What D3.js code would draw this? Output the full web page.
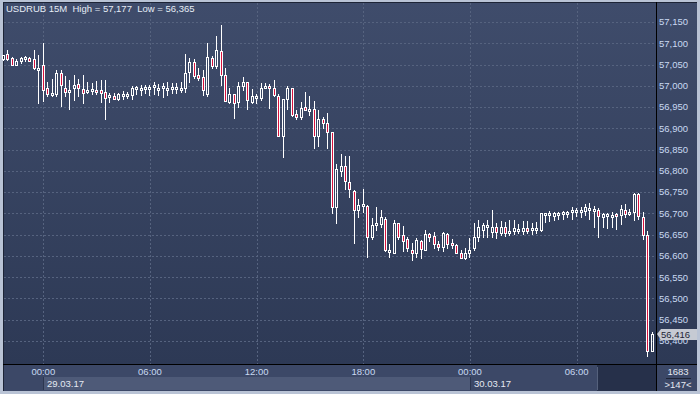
<!DOCTYPE html>
<html><head><meta charset="utf-8">
<script src="https://cdn.jsdelivr.net/npm/d3@7"></script>
<style>html,body{margin:0;padding:0;background:#b9c3d5;}svg{display:block;font-family:"Liberation Sans",Arial,sans-serif;}</style>
</head><body>
<script>
// ---- data (15-minute candles, index 0 = 28.03.17 21:45) ----
const opens = [57.062,57.075,57.065,57.050,57.059,57.062,57.065,57.062,57.040,57.049,
56.994,56.979,56.981,57.029,56.994,56.987,56.996,57.004,56.992,56.986,
56.988,56.990,56.990,56.985,56.974,56.976,56.968,56.977,56.978,56.978,
56.992,56.992,56.994,56.994,56.998,56.994,56.994,56.993,56.994,56.996,
56.994,56.996,57.032,57.055,57.025,57.020,56.981,57.066,57.047,57.082,
57.025,56.961,56.980,56.961,57.000,57.008,56.963,56.974,56.972,56.996,
57.000,56.996,56.976,56.883,56.969,56.994,56.934,56.926,56.949,56.943,
56.945,56.883,56.923,56.912,56.891,56.714,56.800,56.811,56.773,56.753,
56.708,56.719,56.717,56.645,56.672,56.674,56.688,56.610,56.608,56.677,
56.649,56.640,56.615,56.608,56.636,56.615,56.651,56.647,56.627,56.620,
56.651,56.631,56.625,56.608,56.594,56.608,56.618,56.645,56.662,56.667,
56.657,56.669,56.655,56.667,56.657,56.659,56.662,56.659,56.665,56.661,
56.661,56.661,56.696,56.699,56.695,56.698,56.698,56.698,56.704,56.707,
56.707,56.706,56.710,56.707,56.708,56.692,56.696,56.695,56.699,56.696,
56.708,56.702,56.704,56.746,56.691,56.649,56.377];
const highs = [57.073,57.083,57.067,57.062,57.067,57.069,57.067,57.084,57.072,57.100,
57.008,57.016,57.037,57.036,57.024,57.014,57.025,57.016,57.025,57.010,
57.006,57.011,57.014,57.014,56.984,56.982,56.984,56.988,56.986,57.000,
57.000,57.002,57.002,57.002,57.010,57.004,57.006,57.008,57.007,57.007,
57.008,57.075,57.066,57.062,57.043,57.036,57.100,57.069,57.117,57.143,
57.043,56.996,56.981,57.010,57.021,57.010,56.992,56.981,57.006,57.007,
57.004,57.014,56.981,56.970,57.000,56.996,56.943,56.961,56.985,56.976,
56.964,56.943,56.927,56.935,56.891,56.815,56.840,56.836,56.836,56.755,
56.734,56.757,56.720,56.690,56.714,56.709,56.692,56.629,56.684,56.678,
56.670,56.645,56.631,56.641,56.637,56.661,56.655,56.657,56.636,56.656,
56.655,56.639,56.628,56.614,56.618,56.641,56.677,56.684,56.678,56.684,
56.709,56.677,56.682,56.680,56.684,56.684,56.675,56.682,56.682,56.677,
56.680,56.702,56.702,56.706,56.704,56.704,56.706,56.706,56.714,56.712,
56.714,56.721,56.724,56.718,56.712,56.702,56.702,56.704,56.702,56.720,
56.721,56.710,56.747,56.747,56.704,56.659,56.422];
const lows = [57.061,57.061,57.048,57.048,57.054,57.059,57.058,57.039,56.960,56.965,
56.977,56.977,56.977,56.953,56.977,56.945,56.967,56.977,56.960,56.982,
56.981,56.981,56.961,56.921,56.963,56.968,56.967,56.970,56.972,56.970,
56.981,56.978,56.982,56.978,56.981,56.978,56.974,56.978,56.982,56.982,
56.986,56.986,57.010,57.019,57.014,56.978,56.976,57.043,57.041,57.002,
56.965,56.959,56.925,56.951,56.990,56.945,56.959,56.959,56.966,56.994,
56.947,56.976,56.883,56.833,56.945,56.929,56.923,56.923,56.943,56.931,
56.853,56.859,56.901,56.853,56.702,56.677,56.789,56.757,56.739,56.631,
56.692,56.704,56.598,56.640,56.661,56.669,56.612,56.597,56.608,56.639,
56.612,56.612,56.590,56.598,56.594,56.614,56.636,56.618,56.614,56.612,
56.619,56.619,56.608,56.594,56.592,56.598,56.614,56.636,56.645,56.645,
56.645,56.643,56.649,56.647,56.649,56.651,56.653,56.651,56.655,56.651,
56.653,56.659,56.680,56.683,56.684,56.688,56.687,56.691,56.687,56.695,
56.692,56.697,56.688,56.667,56.645,56.669,56.665,56.667,56.663,56.675,
56.692,56.696,56.684,56.688,56.640,56.365,56.377];
const closes = [57.072,57.062,57.050,57.058,57.065,57.067,57.059,57.043,57.043,56.990,
56.981,56.984,57.029,57.002,56.986,56.989,57.002,56.996,56.984,56.990,
56.992,56.985,56.982,56.972,56.978,56.970,56.981,56.980,56.980,56.994,
56.998,56.994,56.998,56.998,57.002,56.996,57.000,56.996,56.998,56.998,
56.996,57.029,57.055,57.024,57.019,56.989,57.067,57.047,57.084,57.025,
56.965,56.980,56.960,57.000,57.008,56.967,56.976,56.975,56.996,57.000,
56.994,56.978,56.883,56.969,56.994,56.931,56.926,56.947,56.944,56.945,
56.882,56.921,56.912,56.891,56.714,56.804,56.811,56.776,56.757,56.708,
56.720,56.722,56.644,56.672,56.677,56.691,56.615,56.615,56.677,56.645,
56.636,56.618,56.606,56.637,56.616,56.651,56.644,56.629,56.622,56.653,
56.629,56.625,56.608,56.594,56.608,56.615,56.645,56.667,56.673,56.672,
56.667,56.657,56.667,56.655,56.659,56.666,56.663,56.666,56.659,56.665,
56.666,56.700,56.700,56.702,56.700,56.702,56.704,56.704,56.709,56.709,
56.709,56.716,56.713,56.710,56.695,56.698,56.699,56.696,56.694,56.710,
56.699,56.704,56.746,56.694,56.649,56.377,56.416];

const priceTicks = [56.40,56.45,56.50,56.55,56.60,56.65,56.70,56.75,56.80,56.85,56.90,56.95,57.00,57.05,57.10,57.15];
const timeTickIndex = [9,33,57,81,105,129];
const timeTickLabels = ["00:00","06:00","12:00","18:00","00:00","06:00"];
const dateLabels = ["29.03.17","30.03.17"];
const dateStartIndex = [9,105];
const headerText = "USDRUB 15M  High = 57,177  Low = 56,365";
const lastPrice = 56.416;
const barsInfo = ["1683", ">147<"];

// ---- layout ----
const W = 700, H = 394;
const plotL = 4, plotT = 3, plotR = 656, plotB = 364;

const x = d3.scaleLinear().domain([0, 146]).range([3.3, 652.2]);
const y = d3.scaleLinear().domain([56.40, 57.15]).range([341, 22]);
const fmt = v => v.toFixed(3).replace(".", ",");

const svg = d3.select("body").append("svg").attr("width", W).attr("height", H);
const defs = svg.append("defs");
const g = defs.append("linearGradient").attr("id", "bg").attr("x1", 0).attr("y1", 0).attr("x2", 0).attr("y2", 1);
g.append("stop").attr("offset", "0%").attr("stop-color", "#3f4c6b");
g.append("stop").attr("offset", "100%").attr("stop-color", "#2d3955");

// frame
svg.append("rect").attr("x", 0).attr("y", 0).attr("width", W).attr("height", H).attr("fill", "#b9c3d5");
svg.append("rect").attr("x", 3).attr("y", 2).attr("width", 694).attr("height", 389).attr("fill", "#1d2436");
svg.append("rect").attr("x", plotL).attr("y", plotT).attr("width", plotR - plotL).attr("height", plotB - plotT).attr("fill", "url(#bg)");
svg.append("rect").attr("x", 657).attr("y", plotT).attr("width", 40).attr("height", plotB - plotT).attr("fill", "url(#bg)");

// bottom area
svg.append("rect").attr("x", plotL).attr("y", 365).attr("width", plotR - plotL).attr("height", 26).attr("fill", "#3c4867");
svg.append("rect").attr("x", 657).attr("y", 365).attr("width", 40).attr("height", 26).attr("fill", "#3c4867");
// date bar for first day
svg.append("rect").attr("x", Math.round(x(dateStartIndex[0]))).attr("y", 377)
  .attr("width", Math.round(x(dateStartIndex[1])) - Math.round(x(dateStartIndex[0]))).attr("height", 13).attr("fill", "#4e5a78");
dateStartIndex.forEach(i => {
  svg.append("line").attr("x1", Math.round(x(i)) + 0.5).attr("x2", Math.round(x(i)) + 0.5)
    .attr("y1", 377).attr("y2", 390).attr("stroke", "#2c3650");
});
// dark block at right of time axis
svg.append("rect").attr("x", 597).attr("y", 365).attr("width", 59).attr("height", 26).attr("fill", "#26304a");
svg.append("line").attr("x1", 597.5).attr("x2", 597.5).attr("y1", 367).attr("y2", 390).attr("stroke", "#55617c");

// grid
const grid = svg.append("g").attr("stroke", "#56637f").attr("stroke-width", 1).attr("stroke-dasharray", "2,2");
priceTicks.forEach(v => {
  const yy = Math.round(y(v)) + 0.5;
  grid.append("line").attr("x1", plotL).attr("x2", plotR).attr("y1", yy).attr("y2", yy);
});
timeTickIndex.forEach(i => {
  const xx = Math.round(x(i)) + 0.5;
  grid.append("line").attr("x1", xx).attr("x2", xx).attr("y1", plotT).attr("y2", plotB);
});

// separators
svg.append("line").attr("x1", 656.5).attr("x2", 656.5).attr("y1", 2).attr("y2", 391).attr("stroke", "#000");
svg.append("line").attr("x1", 3).attr("x2", 697).attr("y1", 364.5).attr("y2", 364.5).attr("stroke", "#000");

// candles
const candles = svg.append("g");
opens.forEach((o, i) => {
  const c = closes[i], h = highs[i], l = lows[i];
  const cx = Math.floor(x(i));
  let top = Math.round(y(Math.max(o, c)));
  let bot = Math.round(y(Math.min(o, c)));
  if (bot - top < 2) bot = top + 2;
  const hi = Math.round(y(h)), lo = Math.round(y(l));
  if (hi < top) candles.append("line").attr("x1", cx + 0.5).attr("x2", cx + 0.5).attr("y1", hi).attr("y2", top).attr("stroke", "#fff");
  if (lo > bot) candles.append("line").attr("x1", cx + 0.5).attr("x2", cx + 0.5).attr("y1", bot + 1).attr("y2", lo + 1).attr("stroke", "#fff");
  candles.append("rect").attr("x", cx - 0.5).attr("y", top + 0.5).attr("width", 2).attr("height", bot - top)
    .attr("fill", c < o ? "#d8123e" : "none").attr("stroke", "#fff").attr("stroke-width", 1);
});

// y labels
const yl = svg.append("g").attr("font-size", "9.5px").attr("fill", "#c9d9f2");
priceTicks.forEach(v => {
  yl.append("text").attr("x", 659).attr("y", y(v)).attr("dy", "0.35em").text(fmt(v));
});

// last price tag
const ty = Math.round(y(lastPrice));
svg.append("path").attr("d", `M657,${ty} L661,${ty - 5} L697,${ty - 5} L697,${ty + 6} L661,${ty + 6} Z`).attr("fill", "#c6cad3");
svg.append("text").attr("x", 661).attr("y", ty).attr("dy", "0.38em").attr("font-size", "9.5px").attr("fill", "#1e2535").text(fmt(lastPrice));

// x labels
const xl = svg.append("g").attr("font-size", "9.5px").attr("fill", "#c9d9f2").attr("text-anchor", "middle");
timeTickIndex.forEach((i, k) => {
  xl.append("text").attr("x", x(i)).attr("y", 372).attr("dy", "0.35em").text(timeTickLabels[k]);
});
dateStartIndex.forEach((i, k) => {
  svg.append("text").attr("x", Math.round(x(i)) + 4).attr("y", 384).attr("dy", "0.35em")
    .attr("font-size", "9.5px").attr("fill", "#e4e9f2").text(dateLabels[k]);
});

// bars info
svg.append("text").attr("x", 678).attr("y", 372).attr("dy", "0.35em").attr("text-anchor", "middle").attr("font-size", "9.5px").attr("fill", "#e4e9f2").text(barsInfo[0]);
svg.append("line").attr("x1", 666).attr("x2", 691).attr("y1", 378.5).attr("y2", 378.5).attr("stroke", "#1d2436");
svg.append("text").attr("x", 678).attr("y", 385).attr("dy", "0.35em").attr("text-anchor", "middle").attr("font-size", "9.5px").attr("fill", "#e4e9f2").text(barsInfo[1]);

// header
svg.append("text").attr("x", 6).attr("y", 9).attr("dy", "0.35em").attr("font-size", "9.5px").attr("fill", "#e6ecf6")
  .attr("xml:space", "preserve").style("white-space", "pre").text(headerText);
</script>
</body></html>
